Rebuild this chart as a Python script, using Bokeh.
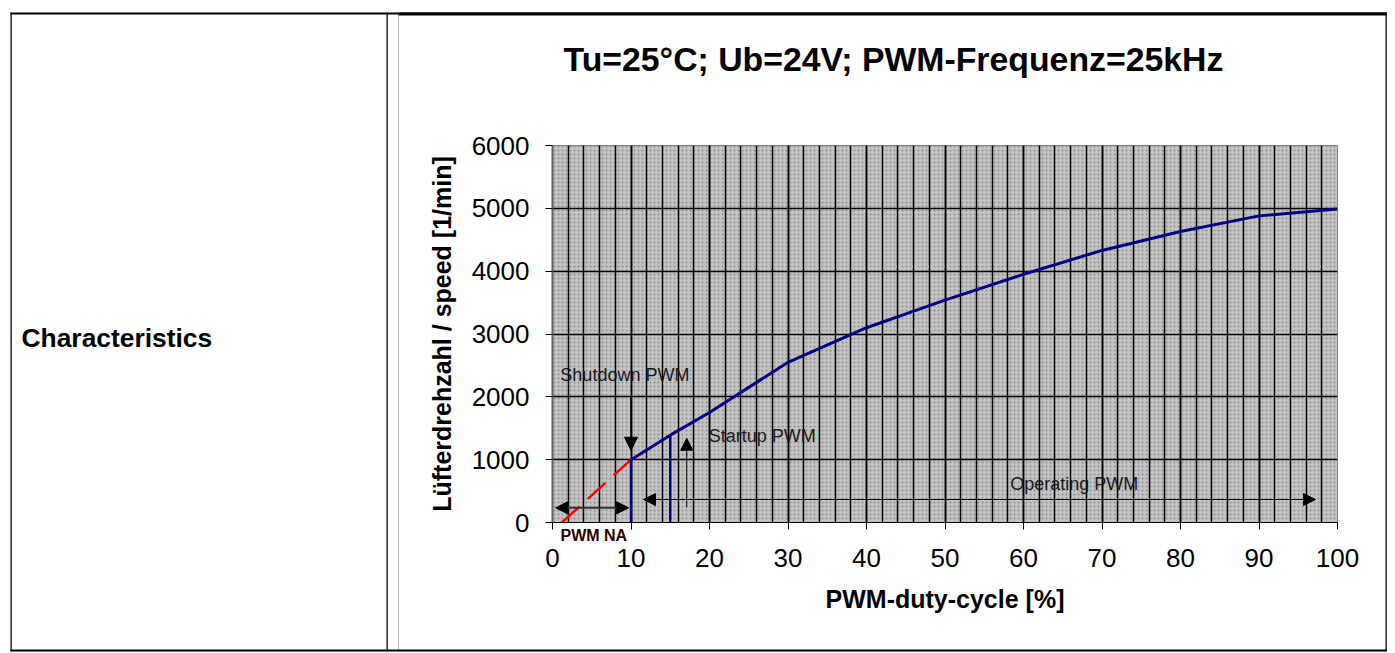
from bokeh.plotting import figure
from bokeh.models import (Range1d, SingleIntervalTicker, BoxAnnotation, Label,
                          Arrow, NormalHead, Title)
from bokeh.embed import file_html
from bokeh.resources import INLINE

# ---------------- data ----------------
duty_cycle = [10, 15, 20, 30, 40, 50, 60, 70, 80, 90, 100]
fan_speed = [1000, 1390, 1750, 2550, 3100, 3540, 3950, 4330, 4630, 4880, 4990]
na_duty = [1.2, 10]
na_speed = [0, 1000]
marker_duty = [10, 15]          # shutdown PWM, startup PWM
marker_speed = [1000, 1390]
x_tick_step = 10
x_minor_per_major = 5
y_tick_step = 1000

title_text = "Tu=25°C; Ub=24V; PWM-Frequenz=25kHz"
x_title = "PWM-duty-cycle [%]"
y_title = "Lüfterdrehzahl / speed [1/min]"
row_title = "Characteristics"

note_texts = ["Shutdown PWM", "Startup PWM", "Operating PWM"]
note_x = [1.0, 19.9, 58.3]
note_y = [2340, 1370, 605]
na_text = "PWM NA"

# ---------------- styling / layout ----------------
FONT = "Liberation Sans"
W, H = 1392, 652
p = figure(width=W, height=H, x_range=Range1d(0, 100), y_range=Range1d(0, 6000),
           output_backend="svg", toolbar_location=None,
           min_border_left=552, min_border_right=W - 1337,
           min_border_top=145, min_border_bottom=H - 522)
p.background_fill_color = "#c4c4c4"
p.border_fill_color = "white"
p.outline_line_color = "#808080"
p.outline_line_width = 1

# dotted texture of the plot area
p.add_layout(BoxAnnotation(level="image", fill_color=None, line_color=None,
                           hatch_pattern="dot", hatch_color="#8c8c8c",
                           hatch_scale=4, hatch_weight=1.2))

xt = SingleIntervalTicker(interval=x_tick_step, num_minor_ticks=x_minor_per_major)
yt = SingleIntervalTicker(interval=y_tick_step, num_minor_ticks=0)
p.xaxis.ticker = xt
p.yaxis.ticker = yt
p.xgrid.ticker = xt
p.ygrid.ticker = yt
for g in (p.xgrid[0], p.ygrid[0]):
    g.grid_line_color = "black"
    g.grid_line_width = 1.5
p.xgrid.minor_grid_line_color = "black"
p.xgrid.minor_grid_line_width = 1.5

for ax in (p.xaxis[0], p.yaxis[0]):
    ax.major_label_text_font = FONT
    ax.major_label_text_font_size = "26px"
    ax.major_label_text_color = "black"
    ax.major_tick_out = 7
    ax.major_tick_in = 0
    ax.major_tick_line_color = "black"
    ax.minor_tick_line_color = None
    ax.axis_label_text_font = FONT
    ax.axis_label_text_font_size = "25px"
    ax.axis_label_text_font_style = "bold"
    ax.axis_label_text_color = "black"
p.xaxis.axis_label = x_title
p.yaxis.axis_label = y_title
p.xaxis.axis_line_color = "black"
p.yaxis.axis_line_color = "#606060"
p.yaxis.axis_line_width = 2
p.xaxis.major_label_standoff = 19
p.yaxis.major_label_standoff = 16
p.xaxis.axis_label_standoff = 15
p.yaxis.axis_label_standoff = 13

# spacer between the title and the plot frame
p.add_layout(Title(text=" ", text_font_size="1px", standoff=53), "above")

p.title.text = title_text
p.title.align = "left"
p.title.offset = 11
p.title.text_font = FONT
p.title.text_font_size = "33.8px"
p.title.text_font_style = "bold"
p.title.text_color = "black"
p.title.standoff = 10

# ---------------- glyphs ----------------
p.line(na_duty, na_speed, line_color="#ff0000", line_width=2.5, line_dash="24 11")
p.segment(x0=marker_duty, y0=[0] * len(marker_duty), x1=marker_duty, y1=marker_speed,
          line_color="#000080", line_width=2.5)
p.line(duty_cycle, fan_speed, line_color="#000080", line_width=3)

# ---------------- annotations ----------------
for t, x, y in zip(note_texts, note_x, note_y):
    p.add_layout(Label(x=x, y=y, text=t, text_font=FONT, text_font_size="18px",
                       text_color="#1a1a1a", text_align="left", text_baseline="middle"))

def head(size=12):
    return NormalHead(size=size, fill_color="black", line_color="black")

p.add_layout(Arrow(x_start=marker_duty[0], y_start=2000, x_end=marker_duty[0], y_end=1150,
                   end=head(13), start=None, line_width=1.5, line_color="black"))
p.add_layout(Arrow(x_start=17.1, y_start=240, x_end=17.1, y_end=1340,
                   end=head(12), start=None, line_width=1, line_color="black"))
p.add_layout(Arrow(x_start=0.4, y_start=234, x_end=9.7, y_end=234,
                   start=head(12), end=head(12), line_width=2, line_color="#333333"))
p.add_layout(Arrow(x_start=11.6, y_start=366, x_end=97.2, y_end=366,
                   start=head(12), end=head(12), line_width=1, line_color="black"))

# ---------------- things outside the plot frame (side panel => not clipped) ----------------
p.add_layout(Label(x=560, y=535, x_units="canvas", y_units="canvas", text=na_text,
                   text_font=FONT, text_font_size="16px", text_font_style="bold",
                   text_color="#2a0000", text_align="left", text_baseline="middle"), "left")

p.add_layout(Label(x=21, y=337, x_units="canvas", y_units="canvas", text=row_title,
                   text_font=FONT, text_font_size="26.4px", text_font_style="bold",
                   text_color="black", text_align="left", text_baseline="middle"), "left")

# table rules: thin filled boxes; horizontal ones sit in the "above" panel (only their
# height counts there), vertical ones in the "left" panel (only their width counts)
def rule(x0, y0, x1, y1, side):
    w, h = int(round(x1 - x0)), int(round(y1 - y0))
    pad = dict(left=w // 2, right=max(w - w // 2 - 1, 0), top=h // 2, bottom=max(h - h // 2 - 1, 0))
    p.add_layout(Label(x=x0, y=y0, x_units="canvas", y_units="canvas", text=" ",
                       text_font_size="1px", text_align="left", text_baseline="top",
                       padding=pad, background_fill_color="black",
                       border_line_color=None), side)

rule(10, 12, 1387, 14, "above")      # top
rule(398, 12, 1387, 15, "above")     # top of chart cell (heavier)
rule(10, 649, 1387, 651, "above")    # bottom
rule(10, 12, 12, 651, "left")        # left
rule(386, 12, 388.5, 651, "left")    # middle heavy
rule(398, 12, 399, 651, "left")      # middle thin
rule(1385, 12, 1387, 651, "left")    # right

open("out.html", "w").write(file_html(p, INLINE))
